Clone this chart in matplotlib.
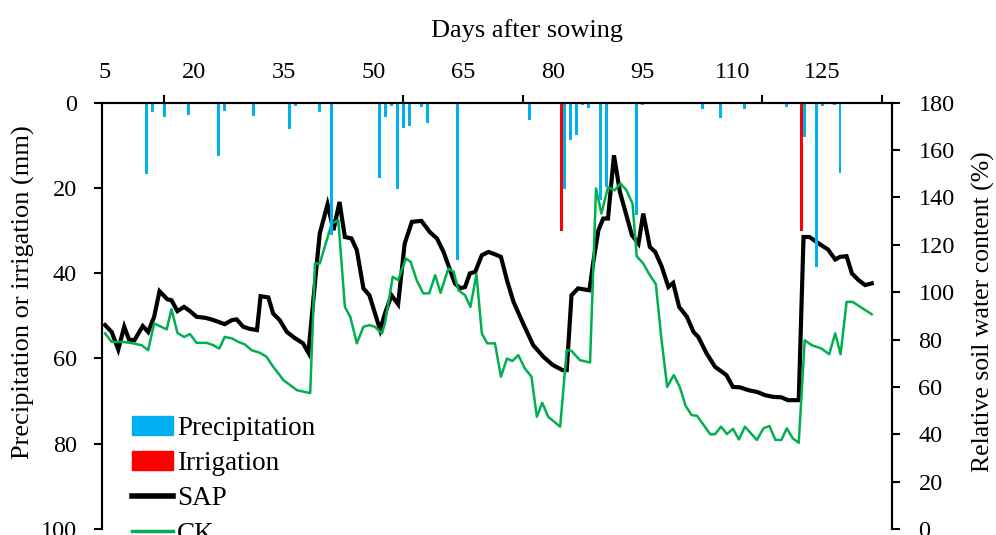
import matplotlib
matplotlib.use("Agg")
import matplotlib.pyplot as plt
from matplotlib.patches import Patch
from matplotlib.lines import Line2D

plt.rcParams["font.family"] = ["Liberation Serif", "DejaVu Serif"]

# & Data
# Precipitation bars (day after sowing, mm)
precip_days = [12, 13, 15, 19, 24, 25, 30, 36, 37, 41, 43, 51, 52, 53, 54, 55, 56,
               58, 59, 64, 76, 82, 83, 84, 85, 86, 88, 89, 94, 95, 105, 108, 112,
               119, 122, 124, 125, 127, 128]
precip_mm = [16.8, 2.1, 3.3, 2.8, 12.4, 1.9, 3.1, 6.2, 0.7, 2.1, 31.0, 17.6, 3.3,
             0.8, 20.3, 6.0, 5.5, 0.9, 4.8, 36.9, 4.1, 20.3, 8.8, 7.6, 0.5, 1.3,
             22.8, 19.7, 26.3, 0.5, 1.5, 3.7, 1.5, 0.9, 8.0, 38.6, 0.8, 0.5, 16.6]

# Irrigation bars
irrig_days = [81.5, 121.5]
irrig_mm = [30, 30]

# SAP relative soil water content (%)
sap_days = [5.1, 6.2, 7.3, 8.3, 9.1, 10.0, 11.4, 12.3, 13.3, 14.2, 15.5, 16.2, 17.2,
            18.3, 19.3, 20.4, 21.8, 22.9, 24.0, 25.1, 26.3, 27.1, 28.2, 29.3, 30.5,
            31.1, 32.4, 33.2, 34.3, 35.5, 36.9, 38.2, 39.1, 40.5, 41.0, 42.3, 43.3,
            44.3, 45.2, 46.3, 47.2, 48.3, 49.3, 51.1, 51.9, 53.0, 54.1, 55.2, 56.4,
            58.0, 59.4, 60.6, 61.7, 62.8, 63.6, 64.5, 65.3, 66.1, 67.0, 68.1, 69.2,
            70.3, 71.3, 72.3, 73.4, 75.0, 76.7, 78.4, 80.0, 81.6, 82.3, 83.1, 84.2,
            86.1, 86.7, 87.6, 88.4, 89.2, 90.2, 91.2, 92.2, 93.2, 94.3, 95.1, 96.2,
            97.1, 98.2, 99.3, 100.1, 101.1, 102.4, 103.5, 104.3, 105.7, 107.1, 109.0,
            110.1, 111.3, 112.7, 114.1, 115.5, 116.8, 118.2, 119.3, 121.1, 121.9,
            122.9, 124.6, 126.0, 127.2, 128.0, 129.1, 130.0, 131.1, 132.2, 133.3]
sap_swc = [86.1, 83.2, 75.8, 85.4, 80.0, 79.7, 85.7, 83.2, 89.6, 100.4, 97.0, 96.6,
           92.0, 93.8, 92.0, 89.6, 89.2, 88.5, 87.5, 86.5, 88.2, 88.5, 85.4, 84.5,
           84.0, 98.3, 97.8, 91.0, 88.2, 83.2, 80.5, 78.4, 74.4, 112.1, 124.8, 137.1,
           126.2, 138.1, 123.3, 122.7, 117.7, 101.6, 98.7, 84.0, 91.0, 98.7, 94.9,
           120.5, 129.7, 130.1, 125.4, 122.7, 117.0, 109.3, 103.7, 101.6, 102.2,
           107.9, 108.6, 115.6, 117.0, 116.0, 114.9, 105.1, 95.9, 86.8, 77.6, 72.7,
           69.2, 67.1, 67.1, 98.7, 101.6, 100.8, 112.1, 126.2, 131.1, 131.1, 157.8,
           142.3, 133.2, 124.1, 120.5, 133.2, 119.1, 117.0, 110.7, 102.2, 103.9,
           93.8, 89.6, 83.2, 81.1, 74.1, 68.5, 65.0, 60.0, 59.8, 58.6, 57.9, 56.5,
           55.8, 55.6, 54.4, 54.4, 123.3, 123.3, 120.3, 118.0, 113.8, 114.9, 115.2,
           107.9, 105.1, 103.0, 103.7]

# CK relative soil water content (%)
ck_days = [5.1, 6.2, 8.1, 9.8, 11.2, 12.3, 13.3, 15.4, 16.2, 17.2, 18.3, 19.3, 20.4,
           22.1, 23.2, 24.2, 25.1, 26.3, 27.4, 28.5, 29.6, 31.0, 32.1, 33.2, 34.3,
           34.9, 37.2, 39.4, 40.2, 41.0, 43.0, 44.1, 45.2, 46.1, 47.2, 48.3, 49.3,
           50.2, 51.4, 51.9, 53.2, 54.1, 55.4, 56.2, 57.2, 58.3, 59.3, 60.3, 61.2,
           62.5, 63.4, 64.2, 65.3, 66.2, 67.2, 68.1, 69.0, 70.3, 71.3, 72.3, 73.2,
           74.2, 75.3, 76.4, 77.3, 78.2, 79.2, 81.2, 82.3, 83.1, 84.5, 86.2, 87.2,
           88.1, 89.2, 90.3, 91.3, 92.3, 93.3, 94.0, 95.1, 96.2, 97.2, 98.1, 99.1,
           100.2, 101.2, 102.2, 103.2, 104.1, 106.3, 107.1, 108.1, 109.1, 110.1,
           111.1, 112.1, 114.1, 115.2, 116.2, 117.2, 118.2, 119.1, 120.1, 121.1,
           122.1, 123.3, 124.9, 126.2, 127.2, 128.1, 129.1, 130.1, 133.3]
ck_swc = [82.6, 79.0, 79.0, 78.4, 77.6, 75.5, 86.8, 84.3, 92.8, 82.8, 81.1, 82.3,
          78.6, 78.6, 77.6, 76.2, 81.1, 80.5, 79.0, 77.9, 75.5, 74.4, 72.7, 68.5,
          65.0, 62.9, 58.6, 57.4, 112.1, 112.1, 129.0, 130.4, 93.8, 89.6, 78.4,
          85.4, 86.1, 85.4, 82.6, 86.8, 106.5, 105.1, 114.2, 112.8, 105.1, 99.5,
          99.5, 107.2, 99.7, 110.0, 108.6, 100.8, 98.7, 93.8, 107.6, 82.6, 78.4,
          78.4, 64.3, 72.0, 70.9, 73.4, 67.8, 64.3, 47.4, 53.3, 47.4, 43.2, 75.5,
          75.2, 71.3, 70.3, 143.8, 133.2, 144.4, 143.0, 145.9, 143.0, 137.4, 115.2,
          112.1, 107.2, 103.4, 81.1, 60.0, 65.0, 60.0, 51.9, 48.1, 47.8, 40.0,
          40.0, 43.2, 40.1, 42.3, 37.8, 43.2, 37.6, 42.5, 43.5, 37.6, 37.6, 42.5,
          38.3, 36.4, 79.7, 77.6, 76.2, 73.8, 82.6, 73.8, 95.9, 95.9, 90.7]

top_ticks = [5, 20, 35, 50, 65, 80, 95, 110, 125]
top_marks = [15, 35, 55, 75, 95, 115, 135]

# * Figure
fig = plt.figure(figsize=(9.96, 5.35), dpi=100)
ax = fig.add_axes([0.1024, 0.0112, 0.7932, 0.7968])  # soil water lines, right axis
axb = ax.twinx()  # precipitation bars, left axis (drawn on top)

blue = "#00B0F0"
red = "#FF0000"
green = "#00B050"

ax.plot(sap_days, sap_swc, color="black", lw=3.0, solid_joinstyle="miter")
ax.plot(ck_days, ck_swc, color=green, lw=1.8)

axb.bar(precip_days, precip_mm, width=0.5, color=blue, align="center")
axb.bar(irrig_days, irrig_mm, width=0.5, color=red, align="center")

ax.set_xlim(4.58, 136.7)
ax.set_ylim(0, 180)
axb.set_ylim(100, 0)

# Right axis (soil water content)
ax.yaxis.tick_right()
ax.yaxis.set_label_position("right")
ax.set_yticks(range(0, 181, 20))
ax.set_ylabel("Relative soil water content (%)", fontsize=18.5, labelpad=12)
ax.yaxis.label.set_y(0.51)
ax.tick_params(axis="y", direction="out", length=6, width=1.5, labelsize=17.5, pad=13)

# Left axis (precipitation)
axb.yaxis.tick_left()
axb.yaxis.set_label_position("left")
axb.set_yticks(range(0, 101, 20))
axb.set_ylabel("Precipitation or irrigation (mm)", fontsize=19, labelpad=4)
axb.yaxis.label.set_y(0.555)
axb.tick_params(axis="y", direction="out", length=6, width=1.5, labelsize=17.5, pad=12)

# Top axis (days)
ax.xaxis.tick_top()
ax.xaxis.set_label_position("top")
ax.set_xticks(top_ticks)
ax.set_xticks(top_marks, minor=True)
ax.tick_params(axis="x", which="major", length=0, labelsize=17.5, pad=14)
ax.tick_params(axis="x", which="minor", direction="out", length=6, width=1.5)
ax.set_xlabel("Days after sowing", fontsize=19, labelpad=18)
ax.xaxis.label.set_x(0.538)

for a in (ax, axb):
    a.spines["bottom"].set_visible(False)
    for s in ("top", "left", "right"):
        a.spines[s].set_linewidth(1.5)
axb.tick_params(axis="x", which="both", bottom=False, top=False,
                labelbottom=False, labeltop=False)

handles = [Patch(color=blue), Patch(color=red),
           Line2D([], [], color="black", lw=4),
           Line2D([], [], color=green, lw=2.5)]
labels = ["Precipitation", "Irrigation", "SAP", "CK"]
axb.legend(handles, labels, loc="upper left", bbox_to_anchor=(0.038, 0.266),
           frameon=False, fontsize=19.5, handlelength=1.52, handletextpad=0.15,
           labelspacing=0.385, borderpad=0, borderaxespad=0)

fig.savefig("out.png", dpi=100)
